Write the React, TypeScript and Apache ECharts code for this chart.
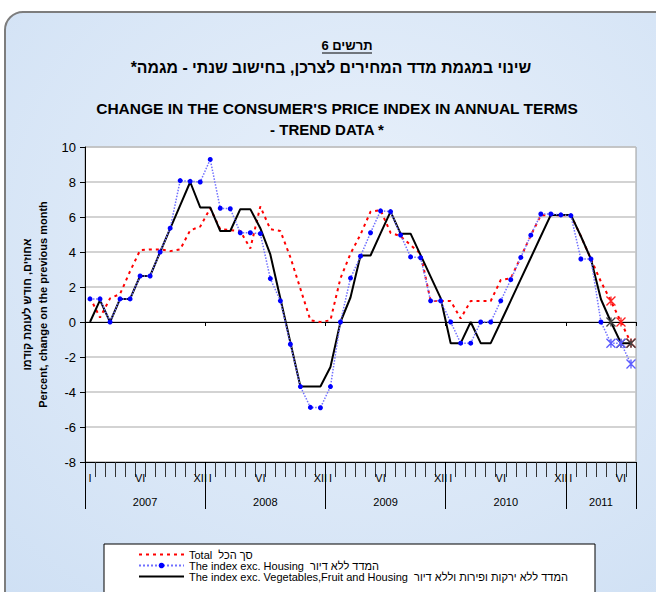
import React, { useEffect, useRef } from 'react';
import * as echarts from 'echarts';

// ---------- data ----------
const years = ['2007', '2008', '2009', '2010', '2011'];
const monthsPerYear = [12, 12, 12, 12, 7];
const romanMonths = ['I', 'II', 'III', 'IV', 'V', 'VI', 'VII', 'VIII', 'IX', 'X', 'XI', 'XII'];
const shownMonths = ['I', 'VI', 'XII'];

const seriesNames = [
  'Total  סך הכל',
  'The index exc. Housing  המדד ללא דיור',
  'The index exc. Vegetables,Fruit and Housing  המדד ללא ירקות ופירות וללא דיור',
];

const totalValues = [
  1.4, 0.25, 1.35, 1.6, 2.9, 4.1, 4.15, 4.15, 4.05, 4.15,
  5.24, 5.45, 6.5, 5.3, 5.25, 5.2, 4.2, 6.6, 5.3, 5.2,
  3.7, 1.9, 0.1, 0, 0.1, 2.5, 3.9, 5.0, 6.3, 6.4,
  5.1, 4.9, 4.4, 3.9, 1.2, 1.2, 1.2, 0.2, 1.2, 1.2,
  1.2, 2.4, 2.5, 3.7, 4.95, 6.1, 6.1, 6.1, 6.1, 4.9,
  3.6, 2.3, 1.2, 0, -1.2,
];

const excHousingValues = [
  1.32, 1.32, 0, 1.32, 1.32, 2.63, 2.63, 4.0, 5.36, 8.08,
  8.04, 8.0, 9.29, 6.5, 6.47, 5.1, 5.1, 5.05, 2.48, 1.21,
  -1.27, -3.69, -4.88, -4.9, -3.69, 0, 2.51, 3.76, 5.1, 6.35,
  6.31, 4.97, 3.72, 3.67, 1.21, 1.21, 0, -1.21, -1.21, 0,
  0, 1.21, 2.42, 3.69, 4.96, 6.17, 6.17, 6.12, 6.08, 3.6,
  3.6, 0, -1.21, -1.21, -2.4,
];

const excVegFruitHousingValues = [
  0, 1.25, 0, 1.32, 1.32, 2.63, 2.63, 4.0, 5.33, 6.67,
  8.0, 6.55, 6.55, 5.2, 5.2, 6.45, 6.45, 5.36, 3.86, 1.34,
  -1.17, -3.69, -3.69, -3.69, -2.57, 0, 1.4, 3.8, 3.8, 5.06,
  6.31, 5.05, 5.05, 3.82, 2.59, 1.36, -1.21, -1.21, 0, -1.21,
  -1.21, 0, 1.22, 2.45, 3.67, 4.9, 6.12, 6.12, 6.12, 4.9,
  3.6, 1.3, 0, -1.21, -1.21,
];

const firstEstimateIndex = 52;

const titleHe1 = 'תרשים 6';
const titleHe2 = 'שינוי במגמת מדד המחירים לצרכן, בחישוב שנתי - מגמה*';
const titleEn1 = "CHANGE IN THE CONSUMER'S PRICE INDEX IN ANNUAL TERMS";
const titleEn2 = '- TREND DATA *';
const yAxisNameHe = 'אחוזים, חודש לעומת קודמו';
const yAxisNameEn = 'Percent, change on the previous month';

const yMin = -8;
const yMax = 10;
const yInterval = 2;

// ---------- derived categories ----------
const monthCats: string[] = [];
const monthRoman: string[] = [];
years.forEach((y, yi) => {
  for (let m = 0; m < monthsPerYear[yi]; m++) {
    monthCats.push(`${y}-${m + 1}`);
    monthRoman.push(romanMonths[m]);
  }
});
const nMonths = monthCats.length;
const halfCats = Array.from({ length: 2 * nMonths + 1 }, (_, i) => 'h' + i);
const yearBoundaryHalf = new Set<number>([0]);
const yearBoundaryMonth = new Set<number>([0]);
const yearLabelAt: Record<number, string> = {};
{
  let acc = 0;
  years.forEach((y, yi) => {
    yearLabelAt[acc * 2 + monthsPerYear[yi]] = y;
    acc += monthsPerYear[yi];
    yearBoundaryHalf.add(acc * 2);
    yearBoundaryMonth.add(acc);
  });
}

const FONT = 'Arial, "Liberation Sans", sans-serif';
const ASTERISK = 'path://M0,0L10,10M10,0L0,10M5,0L5,10';
const RTL = (s: string) => '\u202B' + s + '\u202C';

function withEstimates(values: number[], color: string) {
  return values.map((v, i) =>
    i >= firstEstimateIndex
      ? {
          value: v,
          symbol: ASTERISK,
          symbolSize: 9,
          itemStyle: { color: 'transparent', borderColor: color, borderWidth: 1.3 },
        }
      : v
  );
}

export default function App() {
  const ref = useRef<HTMLDivElement>(null);

  useEffect(() => {
    document.body.style.margin = '0';
    if (!ref.current) return;
    const chart = echarts.init(ref.current, undefined, { renderer: 'svg' });

    const option: any = {
      animation: false,
      graphic: {
        elements: [
          {
            type: 'rect',
            z: -10,
            shape: { x: 5, y: 12, width: 720, height: 640, r: 18 },
            style: {
              fill: new echarts.graphic.RadialGradient(0.5, 0.35, 0.75, [
                { offset: 0, color: '#e9f1fb' },
                { offset: 1, color: '#cfe0f4' },
              ]),
              stroke: '#7d7d7d',
              lineWidth: 2,
            },
          },
          {
            type: 'text',
            x: 347,
            y: 45,
            style: { text: RTL(titleHe1), font: `bold 13px ${FONT}`, fill: '#000', align: 'center', verticalAlign: 'middle' },
          },
          {
            type: 'line',
            shape: { x1: 322, y1: 53, x2: 372, y2: 53 },
            style: { stroke: '#000', lineWidth: 1 },
          },
          {
            type: 'text',
            x: 331,
            y: 67,
            style: { text: RTL(titleHe2), font: `bold 15.8px ${FONT}`, fill: '#000', align: 'center', verticalAlign: 'middle' },
          },
          {
            type: 'text',
            x: 337,
            y: 108,
            style: { text: titleEn1, font: `bold 15.5px ${FONT}`, fill: '#000', align: 'center', verticalAlign: 'middle' },
          },
          {
            type: 'text',
            x: 327,
            y: 129,
            style: { text: titleEn2, font: `bold 15px ${FONT}`, fill: '#000', align: 'center', verticalAlign: 'middle' },
          },
          {
            type: 'rect',
            z: 1,
            shape: { x: 104, y: 544, width: 491, height: 60 },
            style: { fill: '#fff', stroke: '#000', lineWidth: 1 },
          },
        ],
      },
      grid: {
        left: 85,
        top: 147,
        width: 551,
        height: 315,
        show: true,
        backgroundColor: '#ffffff',
        borderColor: '#9a9a9a',
        borderWidth: 1,
      },
      legend: {
        orient: 'vertical',
        left: 138,
        top: 549,
        padding: 0,
        itemGap: 0,
        itemWidth: 45,
        itemHeight: 7,
        z: 5,
        textStyle: { fontSize: 11, fontFamily: FONT, color: '#000', lineHeight: 11 },
        data: [
          { name: seriesNames[0], itemStyle: { opacity: 0 } },
          { name: seriesNames[1] },
          { name: seriesNames[2], itemStyle: { opacity: 0 } },
        ],
      },
      xAxis: [
        {
          type: 'category',
          data: monthCats,
          position: 'bottom',
          boundaryGap: true,
          axisLine: { show: true, onZero: false, lineStyle: { color: '#000', width: 1 } },
          axisTick: { show: true, interval: 0, length: 15, lineStyle: { color: '#333', width: 1 } },
          axisLabel: {
            interval: 0,
            margin: 10,
            fontSize: 11,
            fontFamily: FONT,
            color: '#000',
            formatter: (_v: string, i: number) => (shownMonths.includes(monthRoman[i]) ? monthRoman[i] : ''),
          },
          splitLine: { show: false },
        },
        {
          type: 'category',
          data: halfCats,
          position: 'bottom',
          boundaryGap: false,
          axisLine: { show: true, onZero: false, lineStyle: { color: '#000', width: 1 } },
          axisTick: {
            show: true,
            interval: (i: number) => yearBoundaryHalf.has(i),
            length: 47,
            lineStyle: { color: '#000', width: 1 },
          },
          axisLabel: {
            interval: 0,
            margin: 34,
            fontSize: 11,
            fontFamily: FONT,
            color: '#000',
            formatter: (_v: string, i: number) => yearLabelAt[i] ?? '',
          },
          splitLine: { show: false },
        },
        {
          type: 'category',
          data: monthCats,
          position: 'bottom',
          boundaryGap: true,
          axisLine: { show: true, onZero: true, lineStyle: { color: '#000', width: 1 } },
          axisTick: {
            show: true,
            interval: (i: number) => yearBoundaryMonth.has(i) && i > 0,
            length: 4,
            lineStyle: { color: '#000', width: 1 },
          },
          axisLabel: { show: false },
          splitLine: { show: false },
        },
      ],
      yAxis: {
        type: 'value',
        min: yMin,
        max: yMax,
        interval: yInterval,
        name: `${yAxisNameHe}\n${yAxisNameEn}`,
        nameLocation: 'middle',
        nameRotate: 90,
        nameGap: 31,
        nameTextStyle: { fontSize: 11, fontWeight: 'bold', fontFamily: FONT, color: '#000', lineHeight: 16 },
        axisLine: { show: true, lineStyle: { color: '#000', width: 1 } },
        axisTick: { show: true, length: 5, lineStyle: { color: '#000' } },
        axisLabel: { fontSize: 13, fontFamily: FONT, color: '#000', margin: 9 },
        splitLine: { show: true, lineStyle: { color: '#c4c4c4', width: 1.5 } },
      },
      series: [
        {
          name: seriesNames[0],
          type: 'line',
          xAxisIndex: 0,
          data: withEstimates(totalValues, '#ff2020'),
          symbol: 'none',
          showAllSymbol: true,
          itemStyle: { color: '#ff0000' },
          lineStyle: { color: '#ff0000', width: 2, type: [3, 4] },
          z: 2,
        },
        {
          name: seriesNames[2],
          type: 'line',
          xAxisIndex: 0,
          data: withEstimates(excVegFruitHousingValues, '#404040'),
          symbol: 'none',
          showAllSymbol: true,
          itemStyle: { color: '#000000' },
          lineStyle: { color: '#000000', width: 2 },
          z: 3,
        },
        {
          name: seriesNames[1],
          type: 'line',
          xAxisIndex: 0,
          data: withEstimates(excHousingValues, '#5a5aff'),
          symbol: 'circle',
          symbolSize: 5,
          showAllSymbol: true,
          itemStyle: { color: '#0000ff' },
          lineStyle: { color: '#7070ff', width: 1.5, type: 'dotted' },
          z: 4,
        },
      ],
    };

    chart.setOption(option);
    return () => chart.dispose();
  }, []);

  return <div ref={ref} style={{ width: 656, height: 592 }} />;
}
